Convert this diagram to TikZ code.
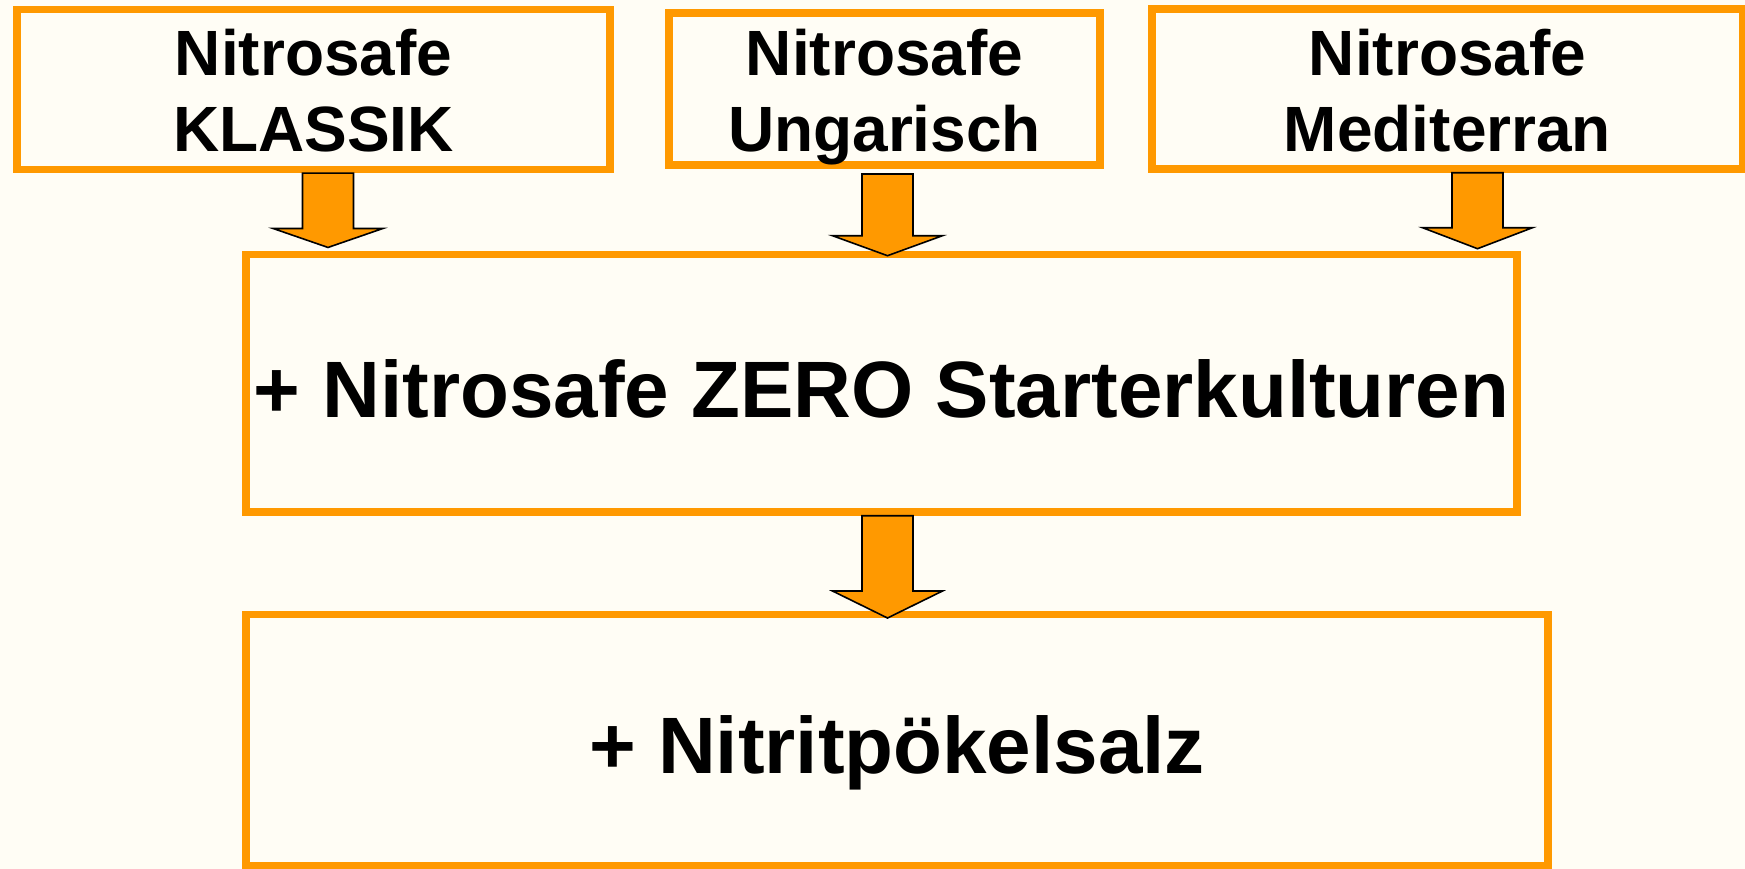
\documentclass[tikz,border=0pt]{standalone}
\usepackage{fontspec}
\setmainfont{Liberation Sans}
\usetikzlibrary{calc}
\definecolor{bg}{RGB}{255,253,245}
\definecolor{org}{RGB}{255,153,0}
\newcommand\blockarrow[3]{%
  \draw[barrow] let \p1=(#1), \p2=(#2) in
   (\x1-25.5pt,\y1) -- (\x1+25.5pt,\y1) -- (\x1+25.5pt,\y2+#3) -- (\x1+55pt,\y2+#3)
   -- (\x1,\y2) -- (\x1-55pt,\y2+#3) -- (\x1-25.5pt,\y2+#3) -- cycle;}
\begin{document}
\begin{tikzpicture}[x=1pt,y=-1pt,
  box/.style={draw=org, line width=7.5pt, inner sep=0pt, align=center, text depth=0pt},
  small/.style={font=\bfseries\fontsize{64}{76}\selectfont, text height=125pt},
  big/.style={font=\bfseries\fontsize{80}{90}\selectfont},
  barrow/.style={fill=org, draw=black, line width=1.6pt, line join=miter}]
\fill[bg] (0,0) rectangle (1745,869);
\useasboundingbox (0,0) rectangle (1745,869);
\node[box, small, minimum width=593pt, minimum height=160pt] (k) at (313.5,89.4) {Nitrosafe\\KLASSIK};
\node[box, small, minimum width=431pt, minimum height=152pt] (u) at (884.5,89) {Nitrosafe\\Ungarisch};
\node[box, small, minimum width=591pt, minimum height=160pt] (m) at (1447.5,89) {Nitrosafe\\Mediterran};
\node[box, big, text height=67.3pt, minimum width=1271pt, minimum height=257.3pt] (z) at (881.5,383.35) {+ Nitrosafe ZERO Starterkulturen};
\node[box, big, text height=65.5pt, minimum width=1302pt, minimum height=251.5pt] (n) at (897,740.25) {+ Nitritpökelsalz};
\coordinate (a1) at ($(k.south)+(14.5,0)$);
\coordinate (a2) at ($(u.south)+(3,5.3)$);
\coordinate (a3) at ($(m.south)+(30,0)$);
\coordinate (a4) at ($(z.south)+(6,0)$);
\blockarrow{a1}{$(a1 |- z.north)+(0,-3.5)$}{19pt}
\blockarrow{a2}{$(a2 |- z.north)+(0,4.75)$}{20pt}
\blockarrow{a3}{$(a3 |- z.north)+(0,-2.25)$}{21pt}
\blockarrow{a4}{$(a4 |- n.north)+(0,7.25)$}{27pt}
\end{tikzpicture}
\end{document}
